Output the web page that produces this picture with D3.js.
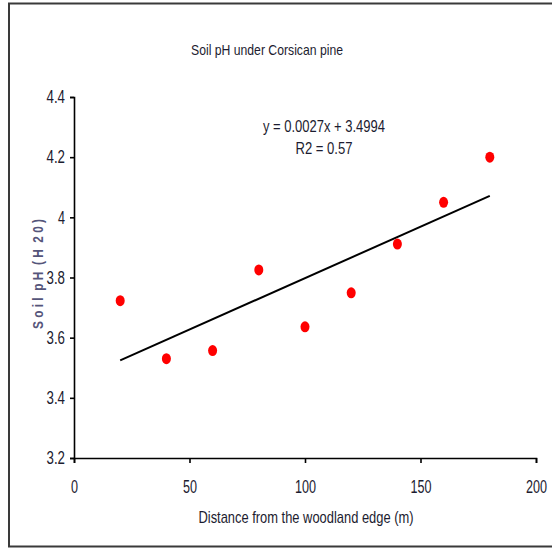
<!DOCTYPE html>
<html>
<head>
<meta charset="utf-8">
<script src="https://cdn.jsdelivr.net/npm/d3@7"></script>
<style>
  body { margin: 0; background: #fff; }
  text { font-family: "Liberation Sans Narrow", "Arial Narrow", "Liberation Sans", sans-serif; }
</style>
</head>
<body>
<svg id="svg_scatter"></svg>
<script>
let width = 552;
let height = 549;

// values
let distance = [20, 40, 60, 80, 100, 120, 140, 160, 180];
let soilPH = [3.723, 3.530, 3.557, 3.825, 3.636, 3.749, 3.911, 4.050, 4.200];
let xTicks = [0, 50, 100, 150, 200];
let yTicks = [3.2, 3.4, 3.6, 3.8, 4, 4.2, 4.4];
let title = "Soil pH under Corsican pine";
let xTitle = "Distance from the woodland edge (m)";
let yTitle = "S o i l  p H  ( H  2 0 )";
let eqLines = ["y = 0.0027x + 3.4994", "R2 = 0.57"];

let svg = d3.select("#svg_scatter")
    .attr("width", width)
    .attr("height", height);

// outer frame: top, left and bottom edges (the right edge is outside the picture)
svg.append("path")
    .attr("d", "M" + width + ",3.5 H9 V546.5 H" + width)
    .attr("fill", "none")
    .attr("stroke", "#3a3a3a")
    .attr("stroke-width", 2);

let x = d3.scaleLinear().domain([0, 200]).range([74, 536]);
let y = d3.scaleLinear().domain([3.2, 4.4]).range([458, 97]);

// condensed look: squeeze each label to the width it has in the picture
function labelWidth(s) {
    let w = 0;
    for (let c of s) w += (c === ".") ? 4.5 : 7;
    return w;
}

let xAxis = svg.append("g")
    .attr("transform", "translate(0," + y(3.2) + ")")
    .call(d3.axisBottom(x).tickValues(xTicks).tickSize(5).tickPadding(17).tickFormat(d3.format("d")));

let yAxis = svg.append("g")
    .attr("transform", "translate(" + x(0) + ",0)")
    .call(d3.axisLeft(y).tickValues(yTicks).tickSize(4).tickPadding(5).tickFormat(d => String(d)));

[xAxis, yAxis].forEach(function (ax) {
    ax.select(".domain").attr("stroke", "#000").attr("stroke-width", 1.6);
    ax.selectAll(".tick line").attr("stroke", "#000").attr("stroke-width", 1.6);
    ax.selectAll(".tick text")
        .attr("fill", "#1c1c30")
        .style("font-size", "18px")
        .attr("textLength", d => labelWidth(String(d)))
        .attr("lengthAdjust", "spacingAndGlyphs");
});

// least-squares trend line from the data
let mx = d3.mean(distance);
let my = d3.mean(soilPH);
let sxy = d3.sum(distance, (d, i) => (d - mx) * (soilPH[i] - my));
let sxx = d3.sum(distance, d => (d - mx) * (d - mx));
let slope = sxy / sxx;
let intercept = my - slope * mx;
let xExtent = d3.extent(distance);

svg.append("line")
    .attr("x1", x(xExtent[0])).attr("y1", y(intercept + slope * xExtent[0]))
    .attr("x2", x(xExtent[1])).attr("y2", y(intercept + slope * xExtent[1]))
    .attr("stroke", "#000")
    .attr("stroke-width", 2);

svg.append("g")
    .selectAll("ellipse")
    .data(distance)
    .enter().append("ellipse")
    .attr("cx", d => x(d))
    .attr("cy", (d, i) => y(soilPH[i]))
    .attr("rx", 4.5)
    .attr("ry", 5.5)
    .attr("fill", "#ff0000");

svg.append("text")
    .attr("x", 267).attr("y", 55)
    .attr("text-anchor", "middle")
    .attr("fill", "#1c1c30")
    .style("font-size", "15px")
    .attr("textLength", 152)
    .attr("lengthAdjust", "spacingAndGlyphs")
    .text(title);

let eqWidths = [122, 57];
svg.selectAll(".eq")
    .data(eqLines)
    .enter().append("text")
    .attr("class", "eq")
    .attr("x", 324)
    .attr("y", (d, i) => 132 + i * 22)
    .attr("text-anchor", "middle")
    .attr("fill", "#1c1c30")
    .style("font-size", "16px")
    .attr("textLength", (d, i) => eqWidths[i])
    .attr("lengthAdjust", "spacingAndGlyphs")
    .text(d => d);

svg.append("text")
    .attr("x", 306).attr("y", 523)
    .attr("text-anchor", "middle")
    .attr("fill", "#1c1c30")
    .style("font-size", "17px")
    .attr("textLength", 215)
    .attr("lengthAdjust", "spacingAndGlyphs")
    .text(xTitle);

svg.append("text")
    .attr("transform", "translate(43,274) rotate(-90)")
    .attr("text-anchor", "middle")
    .attr("fill", "#55557a")
    .style("font-size", "15px")
    .style("font-weight", "bold")
    .style("white-space", "pre")
    .attr("textLength", 110)
    .attr("lengthAdjust", "spacingAndGlyphs")
    .text(yTitle);
</script>
</body>
</html>
